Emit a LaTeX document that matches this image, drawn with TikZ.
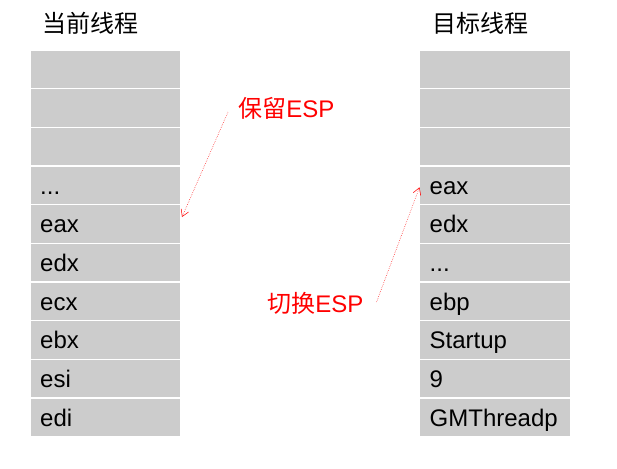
\documentclass[tikz,border=0pt]{standalone}
\usepackage{fontspec}
\setmainfont{Liberation Sans}
\newfontfamily\cjk{Noto Sans CJK SC}
\usetikzlibrary{calc,
arrows.meta,
positioning}

\begin{document}
\begin{tikzpicture} [x = 0.75pt,
        y = -0.75pt,
        font = \fontsize{18pt}{21pt}\selectfont,
        cell/.style = {rectangle, fill = black!20, draw = white,
                line width = 1.2pt, outer sep = 0pt,
                minimum width = 113.25pt, minimum height = 29pt,
                text width = 98pt, inner xsep = 7.6pt, inner ysep = 0pt,
                text height = 15pt, text depth = 2pt, align = left},
        title/.style = {anchor = west, inner sep = 0pt},
        note/.style = {anchor = west, inner sep = 0pt, text = red},
        jump/.style = {red, densely dotted, thin,
                -{Straight Barb[length = 5pt, width = 6pt]}}]

    \useasboundingbox (0, 0) rectangle (617, 468);

    % titres
    \node [title] (cur_title) at (42, 23) {\cjk 当前线程};
    \node [title] (tgt_title) at (432, 23) {\cjk 目标线程};

    % pile du thread courant
    \node [cell, anchor = north] (cur1) at (105.5, 50) {};
    \node [cell, below = 0pt of cur1] (cur2) {};
    \node [cell, below = 0pt of cur2] (cur3) {};
    \node [cell, below = 0pt of cur3] (cur4) {...};
    \node [cell, below = 0pt of cur4] (cur5) {eax};
    \node [cell, below = 0pt of cur5] (cur6) {edx};
    \node [cell, below = 0pt of cur6] (cur7) {ecx};
    \node [cell, below = 0pt of cur7] (cur8) {ebx};
    \node [cell, below = 0pt of cur8] (cur9) {esi};
    \node [cell, below = 0pt of cur9] (cur10) {edi};

    % pile du thread cible
    \node [cell, anchor = north] (tgt1) at (495, 50) {};
    \node [cell, below = 0pt of tgt1] (tgt2) {};
    \node [cell, below = 0pt of tgt2] (tgt3) {};
    \node [cell, below = 0pt of tgt3] (tgt4) {eax};
    \node [cell, below = 0pt of tgt4] (tgt5) {edx};
    \node [cell, below = 0pt of tgt5] (tgt6) {...};
    \node [cell, below = 0pt of tgt6] (tgt7) {ebp};
    \node [cell, below = 0pt of tgt7] (tgt8) {Startup};
    \node [cell, below = 0pt of tgt8] (tgt9) {9};
    \node [cell, below = 0pt of tgt9] (tgt10) {GMThreadp};

    % ESP
    \node [note] (keep) at (238, 108) {{\cjk 保留}ESP};
    \node [note] (switch) at (267, 303) {{\cjk 切换}ESP};

    \coordinate (keep_from) at ($(keep.west) + (-10, 4)$);
    \coordinate (switch_from) at ($(switch.east) + (13, -1)$);

    \draw [jump] (keep_from) -- ($(cur5.east) + (1, -7)$);
    \draw [jump] (switch_from) -- ($(tgt4.west) + (0, 2)$);

\end{tikzpicture}
\end{document}
